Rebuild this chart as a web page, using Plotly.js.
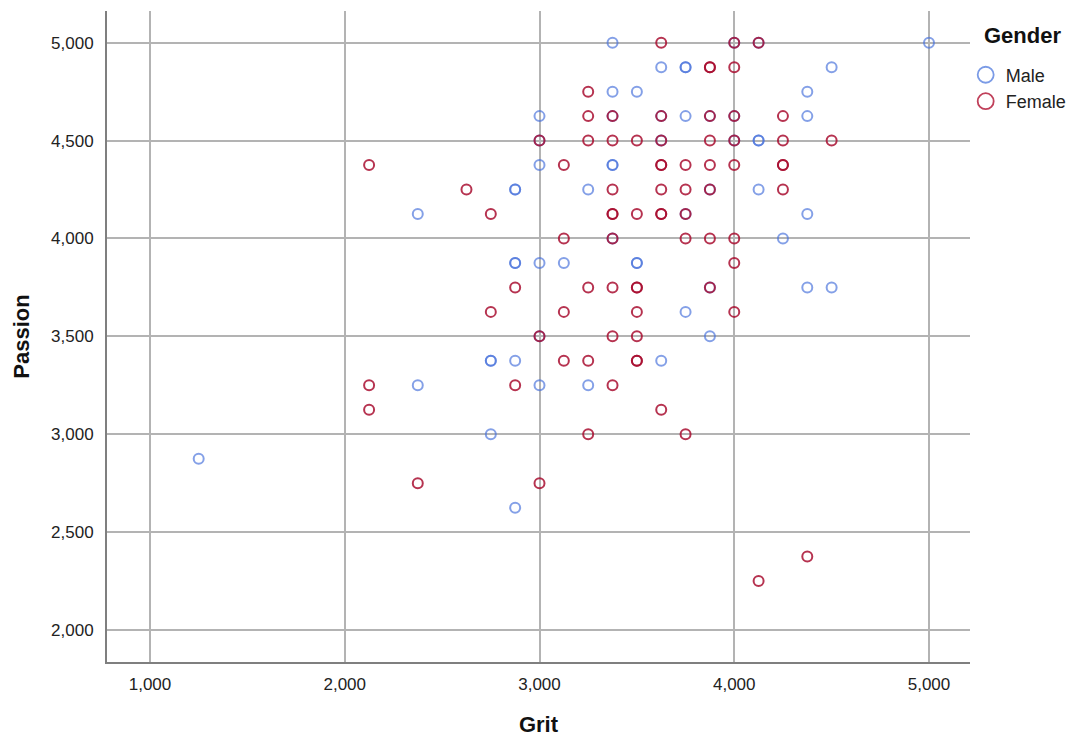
<!DOCTYPE html>
<html>
<head>
<meta charset="utf-8">
<script src="https://cdn.plot.ly/plotly-3.0.1.min.js"></script>
<style>
  html, body { margin: 0; padding: 0; background: #ffffff; }
  #chart { width: 1073px; height: 737px; }
</style>
</head>
<body>
<div id="chart"></div>
<script>
// ---- data ----
const maleGrit = [
  1.25, 2.375, 2.375, 2.75, 2.75, 2.75, 2.875, 2.875, 2.875, 2.875, 2.875, 2.875,
  3.0, 3.0, 3.0, 3.0, 3.0, 3.0, 3.125, 3.25, 3.25,
  3.375, 3.375, 3.375, 3.375, 3.375, 3.375, 3.5, 3.5, 3.5,
  3.625, 3.625, 3.625, 3.625, 3.75, 3.75, 3.75, 3.75, 3.75,
  3.875, 3.875, 3.875, 3.875, 4.0, 4.0, 4.0,
  4.125, 4.125, 4.125, 4.125, 4.25, 4.375, 4.375, 4.375, 4.375, 4.5, 4.5, 5.0
];
const malePassion = [
  2.875, 4.125, 3.25, 3.375, 3.375, 3.0, 4.25, 4.25, 3.875, 3.875, 3.375, 2.625,
  4.625, 4.5, 4.375, 3.875, 3.5, 3.25, 3.875, 4.25, 3.25,
  5.0, 4.75, 4.625, 4.375, 4.375, 4.0, 4.75, 3.875, 3.875,
  4.875, 4.625, 4.5, 3.375, 4.875, 4.875, 4.625, 4.125, 3.625,
  4.625, 4.25, 3.75, 3.5, 5.0, 4.625, 4.5,
  5.0, 4.5, 4.5, 4.25, 4.0, 4.75, 4.625, 4.125, 3.75, 4.875, 3.75, 5.0
];
const femaleGrit = [
  2.125, 2.125, 2.125, 2.375, 2.625, 2.75, 2.75, 2.875, 2.875,
  3.0, 3.0, 3.0, 3.125, 3.125, 3.125, 3.125,
  3.25, 3.25, 3.25, 3.25, 3.25, 3.25,
  3.375, 3.375, 3.375, 3.375, 3.375, 3.375, 3.375, 3.375, 3.375,
  3.5, 3.5, 3.5, 3.5, 3.5, 3.5, 3.5, 3.5,
  3.625, 3.625, 3.625, 3.625, 3.625, 3.625, 3.625, 3.625, 3.625,
  3.75, 3.75, 3.75, 3.75, 3.75,
  3.875, 3.875, 3.875, 3.875, 3.875, 3.875, 3.875, 3.875,
  4.0, 4.0, 4.0, 4.0, 4.0, 4.0, 4.0, 4.0,
  4.125, 4.125, 4.25, 4.25, 4.25, 4.25, 4.25, 4.375, 4.5
];
const femalePassion = [
  4.375, 3.25, 3.125, 2.75, 4.25, 4.125, 3.625, 3.75, 3.25,
  4.5, 3.5, 2.75, 4.375, 4.0, 3.625, 3.375,
  4.75, 4.625, 4.5, 3.75, 3.375, 3.0,
  4.625, 4.5, 4.25, 4.125, 4.125, 4.0, 3.75, 3.5, 3.25,
  4.5, 4.125, 3.75, 3.75, 3.625, 3.5, 3.375, 3.375,
  5.0, 4.625, 4.5, 4.375, 4.375, 4.25, 4.125, 4.125, 3.125,
  4.375, 4.25, 4.125, 4.0, 3.0,
  4.875, 4.875, 4.625, 4.5, 4.375, 4.25, 4.0, 3.75,
  5.0, 4.875, 4.625, 4.5, 4.375, 4.0, 3.875, 3.625,
  5.0, 2.25, 4.625, 4.5, 4.375, 4.375, 4.25, 2.375, 4.5
];
const seriesNames = ["Male", "Female"];
const legendTitle = "Gender";
const xTickVals = [1, 2, 3, 4, 5];
const xTickText = ["1,000", "2,000", "3,000", "4,000", "5,000"];
const yTickVals = [2, 2.5, 3, 3.5, 4, 4.5, 5];
const yTickText = ["2,000", "2,500", "3,000", "3,500", "4,000", "4,500", "5,000"];

// ---- styles ----
const maleColor = "#4a73dc";
const femaleColor = "#a80c2e";
const fontFam = "Liberation Sans, Arial, sans-serif";

function dataTrace(x, y, name, color, op) {
  return {
    type: "scatter", mode: "markers", x: x, y: y, name: name,
    legendgroup: name, showlegend: false, hoverinfo: "x+y+name",
    marker: { symbol: "circle-open", size: 10, color: color, opacity: op,
              line: { width: 2, color: color } }
  };
}
function legendTrace(name, color) {
  return {
    type: "scatter", mode: "markers", x: [null], y: [null], name: name,
    legendgroup: name, showlegend: true,
    marker: { symbol: "circle-open", size: 16, color: color,
              line: { width: 1.8, color: color } }
  };
}

const traces = [
  dataTrace(maleGrit, malePassion, seriesNames[0], maleColor, 0.68),
  dataTrace(femaleGrit, femalePassion, seriesNames[1], femaleColor, 0.84),
  legendTrace(seriesNames[0], "#7b9be6"),
  legendTrace(seriesNames[1], "#c0405a")
];

const layout = {
  width: 1073, height: 737,
  margin: { l: 107, r: 103, t: 11, b: 75, autoexpand: false },
  paper_bgcolor: "#ffffff", plot_bgcolor: "#ffffff",
  font: { family: fontFam, color: "#222222" },
  showlegend: true,
  legend: {
    x: 0.995, y: 0.93, xanchor: "left", yanchor: "top",
    bgcolor: "rgba(0,0,0,0)", borderwidth: 0,
    font: { family: fontFam, size: 18, color: "#222222" },
    itemwidth: 30, tracegroupgap: 0
  },
  annotations: [{
    text: "<b>" + legendTitle + "</b>", xref: "paper", yref: "paper",
    x: 1.014, y: 0.963, xanchor: "left", yanchor: "middle", showarrow: false,
    font: { family: fontFam, size: 22, color: "#111111" }
  }],
  xaxis: {
    range: [0.7792, 5.2105], tickmode: "array", tickvals: xTickVals, ticktext: xTickText,
    showgrid: true, gridcolor: "#b3b3b3", gridwidth: 1.5,
    zeroline: false, showline: true, linecolor: "#7f7f7f", linewidth: 2,
    ticks: "", ticklabelstandoff: 6, automargin: false,
    tickfont: { family: fontFam, size: 17, color: "#222222" },
    title: { text: "<b>Grit</b>", font: { family: fontFam, size: 22, color: "#111111" }, standoff: 25 }
  },
  yaxis: {
    range: [1.8365, 5.162], tickmode: "array", tickvals: yTickVals, ticktext: yTickText,
    showgrid: true, gridcolor: "#b3b3b3", gridwidth: 1.5,
    zeroline: false, showline: true, linecolor: "#7f7f7f", linewidth: 2,
    ticks: "", ticklabelstandoff: 8, automargin: false,
    tickfont: { family: fontFam, size: 17, color: "#222222" },
    title: { text: "<b>Passion</b>", font: { family: fontFam, size: 22, color: "#111111" }, standoff: 15 }
  }
};

Plotly.newPlot("chart", traces, layout, { displayModeBar: false, responsive: false });
</script>
</body>
</html>
